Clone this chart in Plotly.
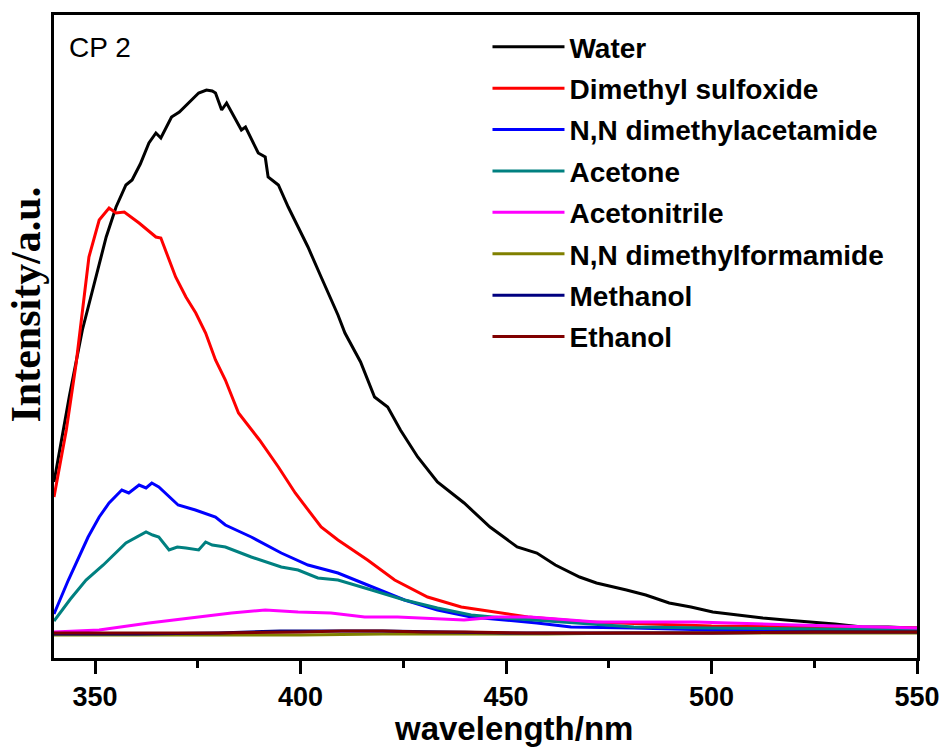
import plotly.graph_objects as go

# ---------------- data ----------------
series_names = ["Water", "Dimethyl sulfoxide", "N,N dimethylacetamide", "Acetone",
                "Acetonitrile", "N,N dimethylformamide", "Methanol", "Ethanol"]
series_colors = ["#000000", "#FF0000", "#0000FF", "#008080",
                 "#FF00FF", "#808000", "#000080", "#800000"]

water_x = [340, 343.7, 346.9, 349, 351, 352.7, 355.1, 357.5, 359, 361, 363.1, 364.8, 366, 368.6,
           370.5, 372.8, 375.2, 377.1, 378.5, 379.3, 380.8, 382, 385.6, 386.6, 389.7, 391.4, 392.1,
           394.6, 397, 399.4, 401.8, 405, 409.1, 410.8, 414.6, 418, 421.2, 424.3, 428.5, 433.3,
           439.8, 446.1, 452.7, 457.5, 462, 467.9, 472, 479.3, 484, 489.7, 495, 500.3, 506, 512.5,
           518, 524.6, 530, 536.7, 543, 548.8, 550]
water_y = [1520, 2370, 3040, 3370, 3710, 3970, 4270, 4490, 4540, 4700, 4910, 5010, 4960, 5170,
           5220, 5310, 5410, 5440, 5430, 5410, 5240, 5310, 5040, 5070, 4810, 4770, 4570,
           4490, 4270, 4070, 3870, 3570, 3190, 3010, 2720, 2370, 2270, 2040, 1770, 1520,
           1310, 1070, 870, 810, 690, 570, 510, 440, 390, 310, 270, 220, 190, 160,
           140, 120, 100, 70, 70, 60, 60]

dmso_x = [340, 343, 345.4, 346.9, 348.5, 351, 353.4, 355.1, 357.1, 360.7, 364.8, 366, 368, 369.6,
          372.1, 374.5, 376.9, 379.3, 381.7, 384.9, 390, 394.6, 398.7, 405, 409.1, 416.3, 422.9,
          430.9, 439.1, 447.3, 455.3, 470, 485, 500, 525, 550]
dmso_y = [1370, 2040, 2710, 3210, 3770, 4140, 4260, 4210, 4220, 4110, 3970, 3960, 3740, 3570,
          3370, 3210, 3010, 2740, 2540, 2210, 1940, 1670, 1410, 1070, 940, 740, 540,
          370, 270, 220, 170, 120, 100, 80, 70, 60]

dmac_x = [340, 343.5, 348.3, 351, 353.4, 356.5, 358.2, 360.7, 362.4, 363.8, 365.5, 367.1, 370.2,
          374.4, 379.3, 381.7, 388, 395.3, 401.8, 409.1, 417.3, 425.3, 433.3, 441.5, 457.5,
          465.8, 481.1, 500, 525, 550]
dmac_y = [200, 540, 970, 1170, 1310, 1440, 1410, 1490, 1460, 1510, 1470, 1410, 1290,
          1240, 1170, 1090, 970, 810, 690, 610, 470, 340, 240, 170, 110,
          70, 60, 40, 40, 40]

acetone_x = [340, 344, 347.8, 352, 357.5, 362.4, 364, 365.5, 368, 370, 372.1, 375.2, 376.9, 378.5,
             381.7, 388, 395.3, 399.4, 404.2, 409.1, 417.3, 425.3, 433.3, 441.5, 449.5, 465.8,
             481.1, 500, 525, 550]
acetone_y = [130, 350, 540, 690, 910, 1020, 990, 970, 840, 870, 860, 840, 920, 890,
             870, 770, 670, 640, 560, 540, 440, 340, 260, 190, 160, 110,
             70, 60, 50, 40]

acn_x = [340, 351, 363.1, 375.2, 383.2, 391.4, 399.4, 407.4, 415.6, 423.6, 439.8, 447.8, 455.8,
         472, 496.1, 520.3, 550]
acn_y = [20, 40, 110, 170, 210, 240, 220, 210, 170, 170, 140, 170, 170,
         120, 120, 90, 60]

dmf_x = [340, 370, 400, 420, 440, 460, 480, 500, 525, 550]
dmf_y = [-10, -10, -10, 0, 0, 0, 10, 10, 10, 10]

methanol_x = [340, 360, 380, 395, 410, 420, 435, 450, 475, 500, 525, 550]
methanol_y = [0, 0, 10, 30, 30, 30, 20, 10, 10, 10, 20, 20]

ethanol_x = [340, 360, 380, 400, 410, 420, 430, 440, 455, 470, 485, 500, 525, 550]
ethanol_y = [10, 10, 10, 20, 30, 30, 20, 20, 10, 10, 10, 10, 20, 20]

series_x = [water_x, dmso_x, dmac_x, acetone_x, acn_x, dmf_x, methanol_x, ethanol_x]
series_y = [water_y, dmso_y, dmac_y, acetone_y, acn_y, dmf_y, methanol_y, ethanol_y]

x_tick_vals = [350, 400, 450, 500, 550]
x_tick_text = ["350", "400", "450", "500", "550"]

# ---------------- figure ----------------
fig = go.Figure()
for name, col, xs, ys in zip(series_names, series_colors, series_x, series_y):
    fig.add_trace(go.Scatter(x=xs, y=ys, mode="lines", name=name, legendgroup=name,
                             line=dict(color=col, width=3)))

bold_sans = dict(family="Liberation Sans, Arial", color="black", weight="bold")

fig.update_layout(
    width=952, height=749,
    margin=dict(l=54, r=32, t=15, b=91),
    paper_bgcolor="white", plot_bgcolor="white",
    showlegend=True,
    legend=dict(x=0.5023, y=0.989, xanchor="left", yanchor="top",
                bgcolor="rgba(0,0,0,0)", borderwidth=0,
                font=dict(size=28, **bold_sans),
                itemwidth=72, tracegroupgap=2, itemclick=False),
    xaxis=dict(range=[340, 550], showgrid=False, zeroline=False,
               showline=True, mirror=True, linecolor="black", linewidth=3,
               ticks="outside", ticklen=13, tickwidth=3, tickcolor="black",
               tickvals=x_tick_vals, ticktext=x_tick_text,
               tickfont=dict(size=27, **bold_sans),
               minor=dict(tickvals=[375, 425, 475, 525], ticks="outside",
                          ticklen=7, tickwidth=3, tickcolor="black")),
    yaxis=dict(range=[-240, 6190], showgrid=False, zeroline=False,
               showline=True, mirror=True, linecolor="black", linewidth=3,
               ticks="", showticklabels=False),
    annotations=[
        dict(text="CP 2", xref="paper", yref="paper", x=0.015, y=0.95,
             xanchor="left", yanchor="middle", showarrow=False,
             font=dict(family="Liberation Sans, Arial", size=28, color="black")),
        dict(text="wavelength/nm", xref="paper", yref="paper", x=0.532, y=-0.109,
             xanchor="center", yanchor="middle", showarrow=False,
             font=dict(size=33, **bold_sans)),
        dict(text="Intensity/a.u.", xref="paper", yref="paper", x=-0.033, y=0.549,
             xanchor="center", yanchor="middle", showarrow=False, textangle=-90,
             font=dict(family="Liberation Serif, Times New Roman", size=42,
                       color="black", weight="bold")),
    ],
)

fig.write_html("out.html")
